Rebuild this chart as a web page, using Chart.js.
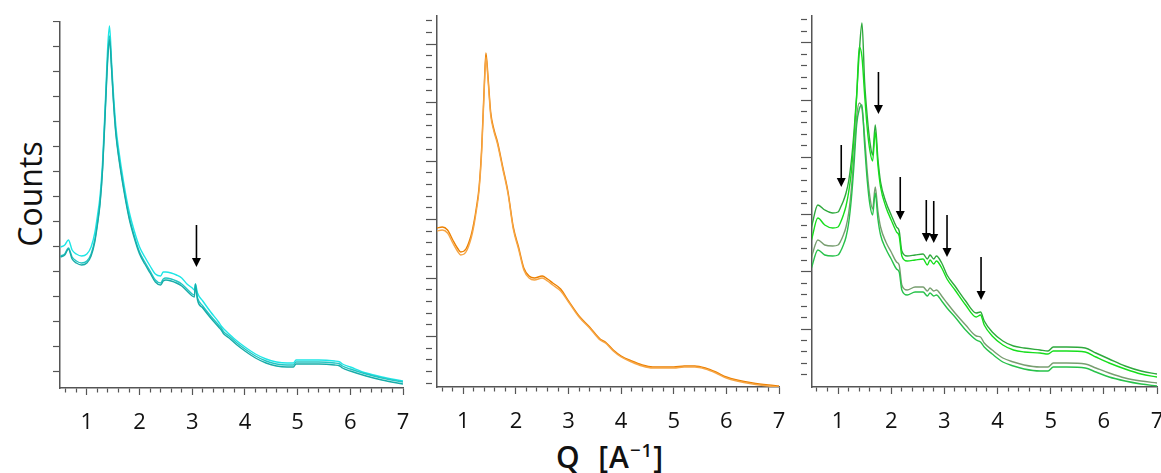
<!DOCTYPE html>
<html>
<head>
<meta charset="utf-8">
<script src="https://cdn.jsdelivr.net/npm/chart.js@4.4.1/dist/chart.umd.min.js"></script>
<style>
  html, body { margin: 0; padding: 0; background: #fff; overflow: hidden; }
  body { width: 1161px; height: 473px; position: relative; font-family: 'Open Sans', sans-serif; }
  .panel { position: absolute; }
  #ylabel { position: absolute; left: 29px; top: 194px; transform: translate(-50%, -50%) rotate(-90deg);
            font-size: 32px; color: #111; white-space: nowrap; }
  #xlabel { position: absolute; left: 610px; top: 456px; transform: translate(-50%, -50%);
            font-size: 30px; font-weight: 600; color: #111; white-space: nowrap; letter-spacing: 1px; }
  #xlabel .sup { position: relative; top: -0.6em; font-size: 0.62em; }
</style>
</head>
<body>
<div id="ylabel">Counts</div>
<div id="xlabel">Q&nbsp;&nbsp;[A<span class="sup">−1</span>]</div>
<script>
// ---- x ticks (shared by the three panels) ----
const xTickValues = [0.6, 0.8, 1, 1.2, 1.4, 1.6, 1.8, 2, 2.2, 2.4, 2.6, 2.8, 3, 3.2, 3.4, 3.6, 3.8,
                     4, 4.2, 4.4, 4.6, 4.8, 5, 5.2, 5.4, 5.6, 5.8, 6, 6.2, 6.4, 6.6, 6.8, 7];
const xMajor = [1, 2, 3, 4, 5, 6, 7];
const xTickLabels = ['1', '2', '3', '4', '5', '6', '7'];

// ---- panel 1 (cyan) ----
const q1 = [0.5, 0.58, 0.65, 0.72, 0.8, 0.9, 1.0, 1.08, 1.15, 1.2,
            1.25, 1.3, 1.35, 1.4, 1.43, 1.47, 1.5, 1.55, 1.6, 1.7,
            1.8, 1.9, 2.0, 2.1, 2.2, 2.3, 2.4, 2.45, 2.5, 2.6,
            2.7, 2.8, 2.9, 3.0, 3.04, 3.06, 3.1, 3.2, 3.35, 3.5,
            3.55, 3.6, 3.7, 3.85, 4.0, 4.2, 4.4, 4.6, 4.8, 4.92,
            4.97, 5.1, 5.4, 5.7, 5.8, 5.85, 6.0, 6.3, 6.6, 7.0];
const cyanUpper = [141, 143, 148, 138, 134, 132, 134, 141, 155, 172,
                   192, 228, 285, 345, 362, 325, 298, 262, 240, 205,
                   177, 157, 141, 131, 122, 114, 112, 116, 116, 115,
                   113, 110, 104, 100, 98, 104, 95, 87, 76, 66,
                   62, 59, 54, 47, 41, 34, 29, 26, 25, 25,
                   28, 28, 28, 27, 26, 24, 21, 15, 11, 7];
const cyanLowerA = [131, 133, 139, 129, 125, 123, 125, 132, 146, 163,
                    184, 220, 277, 332, 348, 318, 290, 254, 232, 198,
                    170, 150, 134, 124, 115, 106, 103, 107, 108, 107,
                    105, 102, 97, 92, 91, 104, 88, 80, 70, 61,
                    58, 54, 50, 43, 37, 30, 25, 22, 21, 21,
                    24, 24, 24, 23, 22, 20, 17, 12, 8, 4];
const cyanLowerB = [132, 134, 140, 131, 127, 125, 127, 134, 148, 165,
                    186, 222, 280, 336, 352, 320, 292, 256, 234, 200,
                    172, 152, 136, 126, 117, 108, 105, 109, 110, 109,
                    107, 104, 99, 94, 93, 101, 90, 82, 72, 63,
                    60, 56, 52, 45, 39, 32, 27, 24, 23, 23,
                    26, 26, 26, 25, 24, 22, 19, 14, 10, 6];
const arrowQ1 = [3.08];
const arrowTop1 = [163];
const arrowTip1 = [121];

// ---- panel 2 (orange) ----
const q2 = [0.5, 0.6, 0.7, 0.8, 0.9, 0.95, 1.05, 1.15, 1.2, 1.25,
            1.3, 1.35, 1.4, 1.43, 1.47, 1.52, 1.58, 1.65, 1.75, 1.85,
            1.95, 2.05, 2.15, 2.25, 2.35, 2.5, 2.6, 2.7, 2.85, 3.0,
            3.2, 3.4, 3.6, 3.7, 3.85, 4.0, 4.2, 4.4, 4.6, 4.8,
            5.0, 5.2, 5.4, 5.6, 5.8, 6.0, 6.2, 6.5, 6.8, 7.0];
const orangeA = [159, 160, 157, 147, 138, 135, 138, 152, 164, 180,
                 200, 240, 304, 334, 310, 275, 258, 245, 220, 195,
                 160, 140, 119, 111, 109, 111, 108, 104, 98, 86,
                 71, 60, 48, 45, 37, 31, 26, 22, 20, 20,
                 20, 21, 21, 19, 15, 10, 7, 4, 2, 1];
const orangeB = [156, 157, 154, 144, 135, 132, 135, 149, 161, 177,
                 197, 236, 300, 330, 307, 272, 256, 243, 218, 193,
                 158, 138, 117, 109, 107, 109, 106, 102, 96, 85,
                 70, 59, 47, 44, 36, 30, 25, 21, 19, 19,
                 19, 20, 20, 18, 14, 9, 6, 3, 1, 0];

// ---- panel 3 (green) ----
const q3 = [0.5, 0.62, 0.75, 0.9, 1.0, 1.05, 1.1, 1.15, 1.2, 1.25,
            1.3, 1.35, 1.4, 1.45, 1.5, 1.55, 1.6, 1.65, 1.7, 1.75,
            1.8, 1.9, 2.0, 2.1, 2.15, 2.2, 2.3, 2.45, 2.6, 2.68,
            2.73, 2.8, 2.85, 2.95, 3.05, 3.2, 3.4, 3.6, 3.68, 3.75,
            3.9, 4.1, 4.3, 4.5, 4.8, 4.95, 5.05, 5.3, 5.65, 5.85,
            6.1, 6.4, 6.7, 7.0];
const greenA = [160, 182, 177, 174, 175, 180, 186, 194, 206, 226,
                255, 292, 335, 364, 305, 270, 245, 232, 262, 228,
                205, 185, 172, 160, 156, 136, 131, 132, 133, 128,
                132, 128, 131, 124, 112, 101, 86, 74, 75, 66,
                55, 46, 41, 39, 37, 36, 40, 40, 39, 34,
                28, 21, 16, 13];
const greenB = [147, 169, 162, 159, 160, 165, 172, 181, 195, 215,
                248, 290, 340, 330, 292, 258, 236, 226, 255, 222,
                200, 180, 167, 155, 151, 131, 126, 127, 128, 122,
                127, 123, 126, 119, 108, 97, 82, 70, 72, 62,
                51, 42, 37, 35, 34, 33, 36, 36, 35, 30,
                24, 18, 13, 10];
const greenC = [130, 147, 142, 141, 142, 146, 152, 160, 174, 198,
                232, 270, 284, 278, 250, 215, 190, 178, 200, 176,
                160, 145, 135, 125, 122, 102, 97, 100, 100, 96,
                99, 96, 97, 91, 84, 74, 62, 51, 50, 44,
                37, 29, 25, 22, 20, 20, 24, 24, 23, 19,
                14, 9, 6, 4];
const greenD = [119, 137, 132, 131, 132, 136, 142, 150, 164, 188,
                222, 262, 278, 282, 242, 206, 182, 172, 194, 168,
                152, 138, 128, 118, 115, 97, 92, 95, 95, 91,
                94, 91, 92, 86, 79, 70, 57, 47, 45, 40,
                33, 25, 21, 18, 16, 16, 20, 20, 19, 15,
                10, 6, 3, 1];
const arrowQ3 = [1.06, 1.76, 2.17, 2.66, 2.80, 3.05, 3.69];
const arrowTop3 = [242, 315, 210, 187, 186, 172, 130];
const arrowTip3 = [200, 273, 167, 145, 144, 130, 87];

// ---- layout ----
const AXIS = '#555';
const Y_AXIS_W = 14, X_AXIS_H = 60, PAD_R = 22;
Chart.defaults.font.family = "'Open Sans', sans-serif";

const arrowPlugin = (qs, tops, tips) => ({
    id: 'arrows',
    afterDatasetsDraw(chart) {
        const { ctx, scales: { x, y } } = chart;
        ctx.save();
        ctx.strokeStyle = '#000';
        ctx.fillStyle = '#000';
        ctx.lineWidth = 1.6;
        qs.forEach((q, i) => {
            const px = x.getPixelForValue(q);
            const y0 = y.getPixelForValue(tops[i]);
            const y1 = y.getPixelForValue(tips[i]);
            ctx.beginPath();
            ctx.moveTo(px, y0);
            ctx.lineTo(px, y1 - 7);
            ctx.stroke();
            ctx.beginPath();
            ctx.moveTo(px - 4.5, y1 - 9);
            ctx.lineTo(px + 4.5, y1 - 9);
            ctx.lineTo(px, y1);
            ctx.closePath();
            ctx.fill();
        });
        ctx.restore();
    }
});

function makePanel(area, xMin, yMax, xs, series, yTick, arrows) {
    const div = document.createElement('div');
    div.className = 'panel';
    div.style.left = (area.left - Y_AXIS_W) + 'px';
    div.style.top = area.top + 'px';
    div.style.width = (area.right - area.left + Y_AXIS_W + PAD_R) + 'px';
    div.style.height = (area.bottom - area.top + X_AXIS_H) + 'px';
    const canvas = document.createElement('canvas');
    div.appendChild(canvas);
    document.body.appendChild(div);

    const yTickValues = [];
    for (let v = yTick.start; v <= yMax; v += yTick.step) { yTickValues.push(v); }

    return new Chart(canvas, {
        type: 'line',
        data: {
            datasets: series.map(s => ({
                data: xs.map((x, i) => ({ x: x, y: s.values[i] })),
                borderColor: s.color,
                borderWidth: 1.4,
                pointRadius: 0,
                fill: false,
                cubicInterpolationMode: 'monotone'
            }))
        },
        options: {
            responsive: true,
            maintainAspectRatio: false,
            animation: false,
            devicePixelRatio: 1,
            layout: { padding: { left: 0, right: PAD_R, top: 0, bottom: 0 } },
            plugins: { legend: { display: false }, tooltip: { enabled: false } },
            scales: {
                x: {
                    type: 'linear', min: xMin, max: 7,
                    afterBuildTicks: ax => { ax.ticks = xTickValues.map(v => ({ value: v })); },
                    afterFit: ax => { ax.height = X_AXIS_H; },
                    border: { color: AXIS, width: 1.5 },
                    grid: {
                        drawOnChartArea: false, tickLength: 7, tickColor: AXIS, tickWidth: 1.2,
                        tickBorderDash: c => (c.tick && xMajor.includes(c.tick.value)) ? [] : [4, 40]
                    },
                    ticks: {
                        autoSkip: false, maxRotation: 0, padding: 15, color: '#111',
                        font: { size: 22 },
                        callback: v => { const i = xMajor.indexOf(v); return i >= 0 ? xTickLabels[i] : ''; }
                    }
                },
                y: {
                    type: 'linear', min: 0, max: yMax,
                    afterBuildTicks: ax => { ax.ticks = yTickValues.map(v => ({ value: v })); },
                    afterFit: ax => { ax.width = Y_AXIS_W; },
                    border: { color: AXIS, width: 1.5 },
                    grid: {
                        drawOnChartArea: false, tickLength: yTick.len, tickColor: AXIS, tickWidth: 1.2,
                        tickBorderDash: c => (c.index % yTick.every === yTick.offset) ? [] : [yTick.minorLen, 40]
                    },
                    ticks: { display: false }
                }
            }
        },
        plugins: [arrowPlugin(arrows.q, arrows.top, arrows.tip)]
    });
}

makePanel({ left: 60, right: 403, top: 21, bottom: 388 }, 0.49, 367, q1, [
    { values: cyanLowerA, color: '#17aca8' },
    { values: cyanLowerB, color: '#22c6c4' },
    { values: cyanUpper, color: '#1ee6e6' }
], { start: 17, step: 25, every: 1, offset: 0, len: 7, minorLen: 7 },
   { q: arrowQ1, top: arrowTop1, tip: arrowTip1 });

makePanel({ left: 437, right: 779, top: 15, bottom: 387 }, 0.5, 372, q2, [
    { values: orangeB, color: '#f6a544' },
    { values: orangeA, color: '#ec8000' }
], { start: 3.7, step: 11.7, every: 5, offset: 4, len: 11, minorLen: 6 },
   { q: [], top: [], tip: [] });

makePanel({ left: 812, right: 1157, top: 15, bottom: 387 }, 0.51, 372, q3, [
    { values: greenD, color: '#27c24a' },
    { values: greenC, color: '#789e70' },
    { values: greenB, color: '#16de1c' },
    { values: greenA, color: '#2ea93c' }
], { start: 12.2, step: 11.45, every: 5, offset: 4, len: 11, minorLen: 6 },
   { q: arrowQ3, top: arrowTop3, tip: arrowTip3 });
</script>
</body>
</html>
